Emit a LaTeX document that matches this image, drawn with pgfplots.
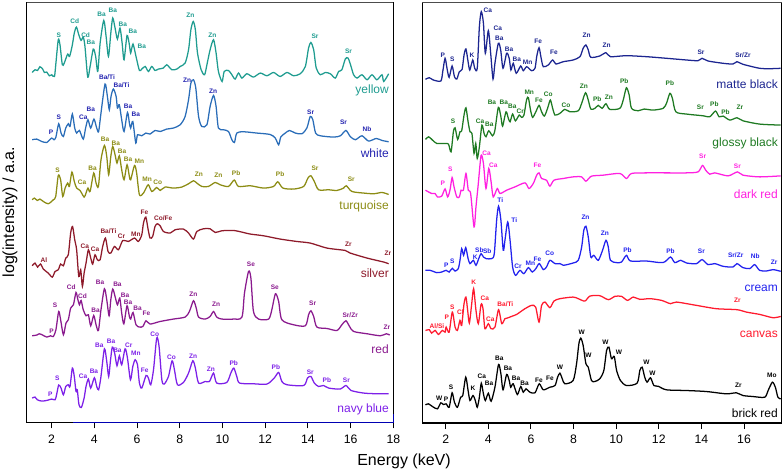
\documentclass[border=0pt]{standalone}
\usepackage{fontspec}
\setmainfont{Liberation Sans}
\usepackage{pgfplots}
\pgfplotsset{compat=1.18}

\definecolor{cyellow}{HTML}{1F9C90}
\definecolor{cwhite}{HTML}{2A6DB8}
\definecolor{cwhitet}{HTML}{2323B0}
\definecolor{cturq}{HTML}{8C8C14}
\definecolor{csilver}{HTML}{8E1A2A}
\definecolor{cred}{HTML}{8A1A8E}
\definecolor{cnavy}{HTML}{7D20E8}
\definecolor{cmatte}{HTML}{1C2590}
\definecolor{cgloss}{HTML}{1E7A22}
\definecolor{cdark}{HTML}{FF20E0}
\definecolor{ccream}{HTML}{2222EE}
\definecolor{ccanvas}{HTML}{FF1A2E}

% peak label and series name
\newcommand{\pk}[4]{\node[text=#1,font=\fontsize{4.9}{6}\selectfont\bfseries,inner sep=0pt] at (axis cs:#2,#3) {#4};}
\newcommand{\nm}[4]{\node[text=#1,font=\fontsize{9}{11}\selectfont,anchor=east,inner sep=0pt] at (axis cs:#2,#3) {#4};}

\pgfplotsset{
  spec/.style={
    scale only axis,
    ymin=0, ymax=420,
    ytick=\empty,
    xtick={2,4,...,18},
    axis line style={line width=0.9pt},
    tick style={line width=0.7pt,black},
    major tick length=4.5pt,
    xtick pos=bottom,
    tick align=outside,
    clip mode=individual,
    tick label style={font=\fontsize{9.2}{11}\selectfont},
    xticklabel style={yshift=-1.2pt},
    /pgf/number format/assume math mode=true,
  },
  ln/.style={no markers,smooth,tension=0.45,line width=0.95pt,#1},
}

\begin{document}
\begin{tikzpicture}[x=1pt,y=1pt]
\path[use as bounding box] (0,0) rectangle (588,354);

\begin{axis}[spec,anchor=south west,at={(20pt,37.3pt)},width=275pt,height=315pt,xmin=0.83,xmax=18]
% frame: grey top edge, blue stretch along the bottom as in the scan
\draw[gray!60!black,line width=0.9pt] (rel axis cs:0,1) -- (rel axis cs:1,1);
\draw[blue!70!black,line width=0.8pt] (axis cs:3,0) -- (axis cs:18,0) -- (axis cs:18,8);
% yellow
\addplot[ln=cyellow] coordinates {
(1.09,349.8)(1.22,352.5)(1.34,351.8)(1.45,355.5)(1.58,353.2)(1.66,349.8)(1.77,350.2)(1.89,346.5)(2.0,347.5)(2.13,345.8)(2.2,359.2)(2.31,382.5)(2.39,377.5)(2.5,357.5)(2.59,359.2)(2.75,368.2)(2.84,365.8)(2.97,377.5)(3.06,389.2)(3.16,395.2)(3.27,387.5)(3.38,381.8)(3.48,385.2)(3.56,375.8)(3.69,345.2)(3.8,355.8)(3.95,373.2)(4.06,365.8)(4.16,350.8)(4.27,379.2)(4.44,401.8)(4.55,385.8)(4.66,365.8)(4.77,389.2)(4.86,404.2)(4.97,394.2)(5.08,383.2)(5.2,394.2)(5.3,379.2)(5.39,362.5)(5.53,386.8)(5.64,377.5)(5.7,369.2)(5.81,378.2)(5.95,365.8)(6.11,351.8)(6.22,353.2)(6.38,355.8)(6.53,350.8)(6.69,355.8)(6.84,351.8)(7.0,353.2)(7.23,354.2)(7.39,357.5)(7.63,352.5)(7.86,353.2)(8.02,355.8)(8.25,359.2)(8.41,372.5)(8.52,392.5)(8.63,400.8)(8.73,392.5)(8.83,369.2)(9.0,352.5)(9.16,347.5)(9.27,357.5)(9.42,372.5)(9.58,382.5)(9.7,369.2)(9.81,350.8)(9.98,340.8)(10.08,350.8)(10.28,351.8)(10.44,347.5)(10.59,343.2)(10.75,349.2)(10.91,344.2)(11.14,348.5)(11.45,345.2)(11.77,349.2)(12.08,346.5)(12.39,349.8)(12.7,345.8)(13.02,349.8)(13.33,346.5)(13.64,348.5)(13.88,355.8)(14.03,374.2)(14.14,379.8)(14.27,372.5)(14.39,354.2)(14.58,347.5)(14.81,349.8)(15.05,348.5)(15.28,344.2)(15.44,350.8)(15.59,352.5)(15.75,363.2)(15.88,364.2)(16.02,355.8)(16.14,347.5)(16.3,344.2)(16.53,347.5)(16.77,342.5)(17.0,347.5)(17.23,342.5)(17.47,347.5)(17.55,340.8)(17.78,348.5)
};
% white
\addplot[ln=cwhite] coordinates {
(1.09,282.5)(1.3,283.2)(1.53,280.8)(1.77,279.8)(2.0,284.2)(2.11,282.5)(2.2,285.2)(2.33,298.5)(2.44,289.2)(2.55,285.8)(2.66,294.2)(2.78,298.5)(2.86,295.8)(2.97,308.2)(3.08,294.2)(3.17,289.2)(3.3,291.8)(3.48,283.2)(3.59,294.2)(3.7,302.5)(3.83,294.2)(3.98,303.2)(4.11,294.2)(4.2,290.8)(4.31,309.2)(4.5,338.2)(4.61,325.8)(4.7,312.5)(4.78,325.8)(4.89,333.2)(5.02,325.8)(5.08,314.2)(5.17,317.5)(5.28,302.5)(5.39,290.8)(5.55,309.8)(5.64,299.2)(5.7,294.2)(5.8,300.8)(5.94,279.2)(6.02,287.5)(6.22,286.5)(6.41,289.2)(6.61,288.2)(6.84,291.8)(7.08,290.8)(7.39,293.2)(7.7,294.2)(8.02,297.5)(8.25,305.8)(8.41,322.5)(8.52,339.2)(8.64,342.5)(8.75,334.2)(8.88,305.8)(9.03,295.8)(9.27,297.5)(9.42,315.8)(9.58,326.8)(9.7,315.8)(9.81,294.2)(10.05,292.5)(10.28,290.8)(10.44,282.5)(10.56,279.8)(10.67,289.2)(10.98,290.5)(11.61,289.2)(12.23,287.8)(12.47,284.2)(12.63,277.5)(12.73,285.2)(12.94,289.2)(13.14,291.8)(13.41,289.2)(13.72,288.5)(13.95,294.2)(14.11,305.8)(14.23,302.5)(14.36,289.2)(14.58,286.5)(15.2,285.2)(15.52,286.5)(15.78,291.8)(15.98,285.8)(16.22,282.5)(16.53,286.5)(16.84,281.2)(17.2,283.8)(17.47,281.8)(17.78,280.5)
};
% turquoise
\addplot[ln=cturq] coordinates {
(1.09,222.5)(1.19,224.2)(1.33,221.8)(1.45,223.2)(1.61,220.8)(1.84,218.5)(2.08,222.5)(2.19,225.8)(2.31,246.8)(2.42,242.5)(2.52,225.8)(2.63,234.2)(2.75,239.2)(2.83,235.8)(2.95,250.2)(3.06,240.8)(3.17,234.2)(3.33,231.8)(3.52,225.2)(3.61,229.2)(3.7,234.2)(3.8,230.8)(3.97,249.2)(4.08,239.2)(4.19,235.8)(4.31,262.5)(4.47,276.8)(4.58,265.8)(4.67,247.5)(4.77,265.8)(4.86,275.8)(4.97,267.5)(5.06,259.2)(5.17,266.5)(5.28,252.5)(5.39,242.5)(5.53,257.5)(5.64,245.8)(5.7,242.5)(5.88,256.8)(5.98,249.2)(6.11,227.5)(6.3,229.2)(6.52,237.5)(6.69,230.8)(6.92,234.8)(7.08,231.8)(7.31,235.2)(7.7,234.2)(8.09,235.2)(8.41,238.5)(8.64,241.5)(8.8,239.2)(9.03,235.8)(9.34,235.8)(9.66,239.8)(9.89,237.5)(10.28,235.8)(10.55,242.2)(10.75,235.8)(11.3,236.5)(11.92,234.2)(12.39,235.8)(12.59,240.5)(12.83,234.2)(13.33,233.2)(13.8,235.8)(14.0,244.2)(14.14,246.5)(14.3,240.8)(14.5,232.5)(14.97,232.5)(15.36,231.8)(15.67,234.2)(15.8,236.5)(16.06,230.8)(16.61,229.2)(17.08,228.5)(17.47,229.8)(17.78,227.8)
};
% silver
\addplot[ln=csilver] coordinates {
(1.09,156.5)(1.22,159.2)(1.34,155.2)(1.48,158.2)(1.61,153.2)(1.84,149.2)(2.03,145.2)(2.16,150.8)(2.31,152.5)(2.42,158.2)(2.55,156.5)(2.66,164.2)(2.78,167.5)(2.89,189.2)(2.98,195.8)(3.08,182.5)(3.17,172.5)(3.27,145.8)(3.36,152.5)(3.44,135.8)(3.52,149.2)(3.61,159.2)(3.72,172.5)(3.83,164.2)(3.92,158.2)(4.03,167.5)(4.14,162.5)(4.27,162.5)(4.39,175.8)(4.52,184.2)(4.64,170.8)(4.77,169.2)(4.94,175.8)(5.13,172.5)(5.33,181.8)(5.59,180.8)(5.88,184.2)(6.06,180.8)(6.22,187.5)(6.3,199.2)(6.41,205.2)(6.52,192.5)(6.61,184.2)(6.73,185.8)(6.84,195.8)(6.95,198.5)(7.08,196.5)(7.23,190.8)(7.55,189.2)(7.78,192.5)(8.17,193.2)(8.41,189.2)(8.64,183.2)(8.8,190.8)(9.11,193.5)(9.42,193.5)(9.66,189.8)(9.97,191.5)(10.52,191.8)(10.98,189.8)(11.3,188.2)(11.92,186.5)(12.7,183.2)(13.48,180.8)(14.11,179.2)(14.89,174.2)(15.75,171.8)(15.98,169.2)(16.77,164.2)(17.55,160.2)(17.78,158.5)
};
% red
\addplot[ln=cred] coordinates {
(1.09,86.5)(1.3,87.2)(1.42,88.5)(1.58,87.2)(1.77,85.2)(1.95,86.5)(2.08,85.8)(2.2,92.5)(2.33,110.8)(2.42,102.5)(2.55,87.5)(2.67,99.2)(2.78,102.5)(2.89,114.2)(3.02,117.5)(3.14,129.8)(3.23,122.5)(3.3,117.5)(3.38,121.8)(3.48,112.5)(3.61,106.5)(3.72,107.5)(3.83,96.5)(3.97,106.8)(4.08,97.5)(4.19,91.8)(4.31,112.5)(4.47,133.5)(4.58,122.5)(4.69,106.5)(4.77,122.5)(4.86,133.2)(4.97,125.8)(5.08,117.5)(5.19,124.2)(5.28,109.2)(5.38,98.5)(5.53,116.5)(5.64,105.8)(5.7,103.2)(5.81,109.8)(5.95,97.5)(6.11,95.2)(6.27,95.8)(6.42,101.5)(6.61,98.2)(7.08,100.8)(7.7,103.2)(8.25,105.2)(8.45,110.8)(8.64,121.5)(8.77,114.2)(8.88,105.2)(9.19,103.2)(9.42,105.8)(9.58,110.8)(9.73,105.2)(9.97,103.2)(10.52,103.2)(10.91,105.2)(11.03,129.2)(11.22,150.8)(11.33,144.2)(11.45,110.8)(11.69,103.2)(12.16,103.2)(12.31,112.5)(12.48,128.5)(12.63,120.8)(12.78,102.5)(13.33,97.5)(13.88,96.5)(14.03,107.5)(14.14,111.5)(14.27,105.8)(14.42,95.2)(14.89,93.8)(15.36,91.8)(15.59,97.5)(15.78,101.5)(15.95,95.8)(16.14,90.8)(16.77,88.5)(17.39,86.5)(17.67,88.5)(17.83,87.2)
};
% navy blue
\addplot[ln=cnavy] coordinates {
(1.09,24.2)(1.22,25.2)(1.33,22.5)(1.53,21.2)(1.77,21.8)(2.0,23.2)(2.16,22.5)(2.23,27.5)(2.33,37.2)(2.44,34.2)(2.55,27.5)(2.66,35.8)(2.78,37.5)(2.86,35.8)(2.97,54.2)(3.06,45.8)(3.14,30.8)(3.2,32.5)(3.28,17.5)(3.39,14.8)(3.52,24.2)(3.61,35.8)(3.72,43.2)(3.83,34.2)(4.0,44.5)(4.11,35.8)(4.2,32.5)(4.31,45.8)(4.47,73.5)(4.58,60.8)(4.67,45.8)(4.75,60.8)(4.84,75.2)(4.95,69.2)(5.06,56.5)(5.17,66.5)(5.28,57.5)(5.44,73.5)(5.55,64.2)(5.69,42.5)(5.8,55.8)(5.91,62.5)(6.02,57.5)(6.11,39.2)(6.22,34.2)(6.42,46.8)(6.53,44.2)(6.64,37.5)(6.77,52.5)(6.92,84.2)(7.03,75.8)(7.16,42.5)(7.27,38.2)(7.47,45.8)(7.64,61.5)(7.75,52.5)(7.89,37.5)(8.17,39.8)(8.41,49.2)(8.61,61.5)(8.73,54.2)(8.88,39.2)(9.19,40.8)(9.39,40.8)(9.58,49.2)(9.73,39.2)(10.2,39.8)(10.39,49.2)(10.53,54.2)(10.67,45.8)(10.8,39.2)(11.45,38.5)(12.08,38.2)(12.42,44.2)(12.63,49.8)(12.78,40.8)(13.02,37.5)(13.8,36.8)(13.98,44.2)(14.14,45.8)(14.3,39.2)(14.5,35.8)(14.73,36.8)(14.97,34.2)(15.52,33.2)(15.78,36.8)(16.02,31.8)(16.61,29.2)(17.23,28.5)(17.78,28.5)
};
% labels
\pk{cyellow}{2.33}{387.5}{S}\pk{cyellow}{3.08}{400.8}{Cd}\pk{cyellow}{3.59}{387.5}{Cd}\pk{cyellow}{3.83}{379.8}{Ba}\pk{cyellow}{4.34}{408.2}{Ba}\pk{cyellow}{4.86}{411.5}{Ba}\pk{cyellow}{5.33}{397.5}{Ba}\pk{cyellow}{5.8}{390.8}{Ba}\pk{cyellow}{6.22}{375.8}{Ba}\pk{cyellow}{8.5}{407.5}{Zn}\pk{cyellow}{9.53}{387.5}{Zn}\pk{cyellow}{14.33}{385.8}{Sr}\pk{cyellow}{15.9}{370.8}{Sr}
\nm{cyellow}{17.8}{331.8}{yellow}
\pk{cwhitet}{1.97}{290.2}{P}\pk{cwhitet}{2.34}{304.8}{S}\pk{cwhitet}{3.48}{305.2}{Ca}\pk{cwhitet}{3.83}{312.5}{Ba}\pk{cwhitet}{4.59}{345.2}{Ba/Ti}\pk{cwhitet}{5.27}{336.8}{Ba/Ti}\pk{cwhitet}{5.58}{315.8}{Ba}\pk{cwhitet}{5.94}{307.5}{Ba}\pk{cwhitet}{8.34}{342.5}{Zn}\pk{cwhitet}{9.56}{331.5}{Zn}\pk{cwhitet}{14.13}{310.2}{Sr}\pk{cwhitet}{15.67}{300.5}{Sr}\pk{cwhitet}{16.77}{293.5}{Nb}
\nm{cwhitet}{17.8}{269.2}{white}
\pk{cturq}{2.28}{251.8}{S}\pk{cturq}{3.42}{240.2}{Ca}\pk{cturq}{3.92}{253.5}{Ba}\pk{cturq}{4.5}{283.2}{Ba}\pk{cturq}{5.0}{278.5}{Ba}\pk{cturq}{5.3}{270.8}{Ba}\pk{cturq}{5.58}{262.5}{Ba}\pk{cturq}{6.11}{261.5}{Mn}\pk{cturq}{6.47}{243.2}{Mn}\pk{cturq}{6.97}{240.5}{Co}\pk{cturq}{8.89}{248.5}{Zn}\pk{cturq}{9.81}{247.2}{Zn}\pk{cturq}{10.64}{248.8}{Pb}\pk{cturq}{12.7}{247.8}{Pb}\pk{cturq}{14.33}{253.8}{Sr}\pk{cturq}{16.03}{243.2}{Sr}
\nm{cturq}{17.8}{215.8}{turquoise}
\pk{csilver}{6.34}{210.2}{Fe}\pk{csilver}{7.22}{203.8}{Co/Fe}\pk{csilver}{1.64}{162.2}{Al}\pk{csilver}{3.55}{175.8}{Ca}\pk{csilver}{4.03}{173.2}{Ca}\pk{csilver}{4.66}{190.8}{Ba/Ti}\pk{csilver}{5.27}{185.8}{Cr}\pk{csilver}{5.94}{188.5}{Mn}\pk{csilver}{15.89}{178.5}{Zr}\pk{csilver}{17.75}{168.8}{Zr}
\nm{csilver}{17.8}{149.2}{silver}
\pk{cred}{2.0}{91.2}{P}\pk{cred}{2.16}{116.8}{S}\pk{cred}{2.92}{135.2}{Cd}\pk{cred}{3.44}{125.8}{Cd}\pk{cred}{4.06}{112.2}{Ba}\pk{cred}{4.27}{140.2}{Ba}\pk{cred}{5.08}{138.2}{Ba}\pk{cred}{5.44}{126.8}{Ba}\pk{cred}{5.58}{119.8}{Ba}\pk{cred}{6.02}{113.8}{Ba}\pk{cred}{6.44}{108.5}{Fe}\pk{cred}{8.64}{127.8}{Zn}\pk{cred}{9.7}{117.8}{Zn}\pk{cred}{11.33}{157.8}{Se}\pk{cred}{12.45}{134.8}{Se}\pk{cred}{14.22}{118.8}{Sr}\pk{cred}{15.98}{107.2}{Sr/Zr}\pk{cred}{17.7}{95.5}{Zr}
\nm{cred}{17.8}{73.2}{red}
\pk{cnavy}{1.94}{28.2}{P}\pk{cnavy}{2.27}{44.5}{S}\pk{cnavy}{3.47}{46.2}{Ca}\pk{cnavy}{3.98}{50.8}{Ba}\pk{cnavy}{4.23}{76.8}{Ba}\pk{cnavy}{4.78}{80.5}{Ba}\pk{cnavy}{5.08}{71.5}{Ba}\pk{cnavy}{5.61}{77.5}{Cr}\pk{cnavy}{5.94}{68.8}{Mn}\pk{cnavy}{6.36}{51.8}{Fe}\pk{cnavy}{6.83}{88.5}{Co}\pk{cnavy}{7.61}{65.5}{Co}\pk{cnavy}{8.63}{66.2}{Zn}\pk{cnavy}{9.45}{52.8}{Zn}\pk{cnavy}{10.53}{58.8}{Pb}\pk{cnavy}{12.5}{54.8}{Pb}\pk{cnavy}{14.11}{50.5}{Sr}\pk{cnavy}{14.89}{41.8}{Pb}\pk{cnavy}{15.8}{42.5}{Sr}
\nm{cnavy}{17.8}{13.2}{navy blue}
\end{axis}

\begin{axis}[spec,anchor=south west,at={(316.7pt,36.7pt)},width=269.6pt,height=315.5pt,xmin=0.9,xmax=17.77]
\draw[gray!60!black,line width=0.9pt] (rel axis cs:0,1) -- (rel axis cs:1,1);
% matte black
\addplot[ln=cmatte] coordinates {
(1.05,343.2)(1.23,344.8)(1.42,342.5)(1.77,341.5)(1.86,350.8)(1.97,364.2)(2.06,354.2)(2.16,345.2)(2.3,356.5)(2.41,345.8)(2.52,343.5)(2.64,350.8)(2.77,353.2)(2.86,367.5)(2.95,373.5)(3.05,360.8)(3.13,352.5)(3.27,362.5)(3.36,354.2)(3.48,354.2)(3.58,395.8)(3.67,410.8)(3.77,399.2)(3.86,369.2)(4.0,391.8)(4.11,369.2)(4.22,343.5)(4.31,359.2)(4.47,379.2)(4.58,372.5)(4.69,354.2)(4.86,369.2)(4.98,364.2)(5.06,352.5)(5.17,359.2)(5.31,349.2)(5.52,356.5)(5.64,351.8)(5.8,355.8)(6.03,351.8)(6.19,354.2)(6.27,365.8)(6.38,374.8)(6.48,364.2)(6.58,355.8)(6.81,357.5)(7.02,362.5)(7.17,358.5)(7.52,360.8)(7.98,362.5)(8.3,365.8)(8.45,374.2)(8.58,377.5)(8.69,372.5)(8.81,365.2)(9.23,366.5)(9.52,369.8)(9.73,365.8)(10.48,366.8)(11.42,365.8)(12.36,364.2)(13.3,362.5)(13.84,361.8)(14.03,364.2)(14.31,361.5)(15.02,359.2)(15.48,358.5)(15.67,360.8)(15.95,358.2)(16.73,354.2)(17.2,353.8)(17.72,354.2)
};
% glossy black
\addplot[ln=cgloss] coordinates {
(1.05,283.2)(1.2,285.8)(1.38,282.5)(1.58,279.2)(1.97,279.2)(2.13,278.5)(2.25,270.8)(2.36,290.8)(2.44,294.8)(2.56,283.2)(2.67,290.8)(2.75,291.8)(2.86,307.5)(2.95,314.8)(3.05,300.8)(3.14,290.8)(3.23,289.2)(3.33,269.2)(3.41,279.2)(3.48,264.2)(3.58,275.8)(3.7,297.5)(3.8,289.2)(3.89,285.8)(4.02,291.8)(4.2,286.8)(4.31,292.5)(4.47,315.2)(4.59,305.8)(4.67,296.5)(4.83,310.8)(4.94,304.2)(5.02,300.8)(5.14,308.5)(5.27,301.8)(5.45,307.5)(5.56,305.2)(5.67,307.5)(5.8,323.2)(5.88,324.8)(5.98,312.5)(6.08,305.2)(6.23,310.8)(6.38,317.2)(6.5,310.8)(6.63,306.5)(6.78,314.2)(6.91,322.5)(7.02,314.2)(7.13,307.5)(7.36,309.2)(7.59,313.2)(7.83,310.8)(8.22,311.8)(8.38,319.2)(8.56,329.8)(8.69,322.5)(8.81,313.5)(9.0,314.2)(9.16,317.2)(9.34,314.2)(9.52,318.8)(9.7,313.2)(10.17,314.2)(10.33,322.5)(10.48,334.8)(10.61,327.5)(10.72,314.2)(11.03,311.8)(11.31,313.5)(11.73,312.5)(12.2,314.2)(12.36,319.2)(12.52,329.2)(12.64,324.2)(12.8,310.8)(13.3,308.5)(14.08,306.8)(14.39,305.8)(14.66,311.5)(14.83,305.8)(15.02,306.5)(15.33,302.5)(15.67,304.8)(15.95,301.8)(16.73,298.5)(17.72,297.5)
};
% dark red
\addplot[ln=cdark] coordinates {
(1.05,232.5)(1.19,230.8)(1.34,229.2)(1.5,229.2)(1.61,225.8)(1.81,226.5)(1.97,233.8)(2.09,225.8)(2.2,232.5)(2.3,245.2)(2.39,235.8)(2.52,225.8)(2.64,225.8)(2.72,232.5)(2.83,232.5)(2.95,249.2)(3.06,232.5)(3.17,229.2)(3.33,195.8)(3.42,215.8)(3.53,239.2)(3.66,267.2)(3.77,259.2)(3.89,234.2)(4.02,254.2)(4.13,240.8)(4.23,225.8)(4.42,234.2)(4.55,229.2)(4.86,232.5)(5.25,235.8)(5.72,239.8)(5.91,234.2)(6.11,239.2)(6.27,247.5)(6.38,249.8)(6.5,244.2)(6.73,242.5)(6.89,236.5)(7.08,242.5)(7.52,244.2)(7.98,245.8)(8.38,245.8)(8.58,241.5)(8.84,246.5)(9.39,247.5)(10.17,249.2)(10.48,244.2)(10.72,249.2)(11.42,249.8)(12.36,249.8)(13.3,249.8)(13.84,250.8)(14.05,257.2)(14.2,252.5)(14.39,248.5)(14.63,249.8)(15.25,246.8)(15.69,250.8)(15.95,247.5)(16.73,245.8)(17.72,246.8)
};
% cream
\addplot[ln=ccream] coordinates {
(1.05,152.5)(1.27,152.5)(1.58,150.2)(1.81,150.8)(2.02,152.5)(2.16,150.8)(2.31,154.5)(2.44,151.8)(2.59,154.2)(2.67,162.5)(2.75,174.2)(2.84,167.5)(2.94,175.2)(3.05,164.2)(3.14,159.2)(3.3,162.5)(3.42,157.5)(3.55,164.2)(3.66,169.2)(3.77,165.8)(3.89,164.2)(4.16,164.2)(4.28,169.2)(4.39,202.5)(4.48,216.5)(4.59,202.5)(4.7,172.5)(4.78,182.5)(4.91,200.8)(5.02,182.5)(5.14,155.8)(5.28,147.5)(5.48,152.5)(5.67,149.2)(5.88,155.2)(6.06,150.8)(6.23,154.2)(6.39,159.2)(6.58,153.2)(6.73,155.8)(6.89,162.5)(7.13,159.2)(7.36,159.2)(7.52,157.5)(7.98,159.8)(8.22,162.5)(8.38,175.8)(8.48,192.5)(8.58,196.5)(8.69,185.8)(8.81,165.8)(8.95,167.5)(9.16,162.5)(9.36,172.5)(9.52,182.5)(9.63,175.8)(9.73,162.5)(10.02,160.2)(10.25,160.8)(10.48,167.5)(10.67,161.8)(11.42,161.8)(12.2,160.2)(12.55,165.8)(12.75,160.2)(13.03,162.5)(13.3,159.8)(13.77,159.2)(14.03,163.2)(14.31,158.2)(14.63,159.2)(15.02,156.5)(15.48,155.8)(15.67,159.2)(15.95,155.2)(16.27,154.2)(16.5,158.2)(16.73,152.5)(17.05,151.8)(17.36,153.2)(17.72,151.5)
};
% canvas
\addplot[ln=ccanvas] coordinates {
(1.05,92.5)(1.23,93.2)(1.34,89.8)(1.5,92.5)(1.66,88.5)(1.84,92.5)(1.97,90.8)(2.02,95.8)(2.16,90.8)(2.31,110.8)(2.44,95.8)(2.55,92.5)(2.67,102.5)(2.75,97.5)(2.86,119.2)(2.95,125.8)(3.03,112.5)(3.11,99.8)(3.22,119.2)(3.31,134.2)(3.42,112.5)(3.53,99.2)(3.66,118.5)(3.75,114.2)(3.84,94.2)(4.0,99.2)(4.13,94.2)(4.31,95.8)(4.48,113.2)(4.63,99.2)(4.78,104.2)(4.94,105.2)(5.09,106.5)(5.33,108.5)(5.72,114.2)(6.03,117.5)(6.22,115.8)(6.38,100.8)(6.5,117.5)(6.66,120.8)(6.89,115.2)(7.08,121.8)(7.36,124.2)(7.98,125.8)(8.22,124.2)(8.53,121.8)(8.77,126.8)(9.23,127.2)(9.63,123.2)(9.94,126.5)(10.25,126.5)(10.53,122.5)(10.8,125.8)(11.11,123.5)(11.58,124.2)(12.13,122.5)(12.55,119.2)(12.83,120.8)(13.77,117.5)(14.7,114.2)(15.67,113.2)(16.11,110.8)(16.73,108.5)(17.36,105.2)(17.72,106.5)
};
% brick red
\addplot[ln=black] coordinates {
(1.05,18.2)(1.19,19.2)(1.38,16.5)(1.61,14.2)(1.77,20.2)(1.89,18.5)(2.02,19.2)(2.16,15.8)(2.3,30.2)(2.41,20.8)(2.55,15.8)(2.7,25.8)(2.8,27.5)(2.94,45.8)(3.05,32.5)(3.14,22.5)(3.28,27.5)(3.39,22.5)(3.48,15.8)(3.58,25.8)(3.67,39.8)(3.77,29.2)(3.86,22.5)(4.0,29.8)(4.13,21.8)(4.31,35.8)(4.48,58.5)(4.59,49.2)(4.69,33.2)(4.86,48.5)(4.98,42.5)(5.05,35.8)(5.17,39.2)(5.36,28.5)(5.52,36.5)(5.64,30.8)(5.77,34.2)(5.95,30.8)(6.19,30.2)(6.39,39.2)(6.58,33.2)(6.89,35.8)(7.13,37.5)(7.25,45.8)(7.36,49.8)(7.47,44.2)(7.59,39.2)(7.98,42.5)(8.14,59.2)(8.25,79.2)(8.34,84.8)(8.45,77.5)(8.58,59.2)(8.69,55.8)(8.84,42.5)(9.0,41.5)(9.23,44.2)(9.42,52.5)(9.55,72.5)(9.66,75.8)(9.78,64.2)(9.91,66.5)(10.02,52.5)(10.2,42.5)(10.48,37.5)(10.98,39.8)(11.11,52.5)(11.22,55.8)(11.34,45.8)(11.45,40.8)(11.61,45.2)(11.77,37.5)(11.97,36.8)(12.36,33.2)(13.3,32.5)(14.23,31.5)(15.17,29.2)(15.64,30.2)(15.95,27.5)(16.42,26.5)(16.97,25.8)(17.13,32.5)(17.33,40.8)(17.47,35.8)(17.59,25.8)(17.72,24.2)
};
% labels
\pk{cmatte}{1.86}{367.5}{P}\pk{cmatte}{2.31}{363.2}{S}\pk{cmatte}{3.23}{367.2}{K}\pk{cmatte}{3.98}{411.8}{Ca}\pk{cmatte}{4.45}{394.2}{Ca}\pk{cmatte}{4.52}{384.2}{Ba}\pk{cmatte}{4.97}{372.8}{Ba}\pk{cmatte}{5.34}{363.2}{Ba}\pk{cmatte}{5.84}{359.8}{Mn}\pk{cmatte}{6.34}{381.5}{Fe}\pk{cmatte}{7.08}{369.8}{Fe}\pk{cmatte}{8.61}{386.8}{Zn}\pk{cmatte}{9.55}{377.2}{Zn}\pk{cmatte}{13.98}{369.8}{Sr}\pk{cmatte}{15.95}{367.2}{Sr/Zr}
\nm{cmatte}{17.6}{338.5}{matte black}
\pk{cgloss}{2.34}{301.2}{S}\pk{cgloss}{3.61}{301.5}{Ca}\pk{cgloss}{4.05}{298.2}{Ba}\pk{cgloss}{4.17}{320.5}{Ba}\pk{cgloss}{4.73}{320.2}{Ba}\pk{cgloss}{5.13}{315.8}{Ba}\pk{cgloss}{5.5}{311.8}{Cr}\pk{cgloss}{5.92}{329.8}{Mn}\pk{cgloss}{6.38}{321.8}{Fe}\pk{cgloss}{6.81}{328.5}{Co}\pk{cgloss}{7.64}{317.2}{Co}\pk{cgloss}{8.48}{336.5}{Zn}\pk{cgloss}{9.11}{323.2}{Pb}\pk{cgloss}{9.66}{325.2}{Zn}\pk{cgloss}{10.38}{341.8}{Pb}\pk{cgloss}{12.52}{339.5}{Pb}\pk{cgloss}{13.95}{315.2}{Sr}\pk{cgloss}{14.61}{318.5}{Pb}\pk{cgloss}{15.13}{310.8}{Pb}\pk{cgloss}{15.81}{315.2}{Zr}
\nm{cgloss}{17.6}{279.2}{glossy black}
\pk{cdark}{1.86}{239.2}{P}\pk{cdark}{2.22}{253.5}{S}\pk{cdark}{3.92}{269.8}{Ca}\pk{cdark}{4.23}{257.8}{Ca}\pk{cdark}{6.31}{257.2}{Fe}\pk{cdark}{14.06}{266.2}{Sr}\pk{cdark}{15.69}{256.5}{Sr}
\nm{cdark}{17.6}{228.5}{dark red}
\pk{ccream}{4.56}{222.2}{Ti}\pk{ccream}{5.22}{202.2}{Ti}\pk{ccream}{8.56}{205.8}{Zn}\pk{ccream}{9.47}{189.8}{Zn}\pk{ccream}{2.03}{157.2}{P}\pk{ccream}{2.31}{161.8}{S}\pk{ccream}{3.38}{165.8}{K}\pk{ccream}{3.58}{172.5}{Sb}\pk{ccream}{3.95}{171.2}{Sb}\pk{ccream}{5.39}{156.5}{Cr}\pk{ccream}{5.97}{159.8}{Mn}\pk{ccream}{6.31}{163.8}{Fe}\pk{ccream}{6.88}{169.8}{Co}\pk{ccream}{10.53}{172.5}{Pb}\pk{ccream}{12.55}{171.8}{Pb}\pk{ccream}{14.0}{171.8}{Sr}\pk{ccream}{15.61}{167.2}{Sr/Zr}\pk{ccream}{16.53}{166.5}{Nb}\pk{ccream}{17.41}{160.2}{Zr}
\nm{ccream}{17.6}{134.5}{cream}
\pk{ccanvas}{1.59}{97.2}{Al/Si}\pk{ccanvas}{2.05}{105.2}{P}\pk{ccanvas}{2.31}{115.2}{S}\pk{ccanvas}{2.69}{110.5}{Cl}\pk{ccanvas}{3.31}{140.8}{K}\pk{ccanvas}{3.84}{124.8}{Ca}\pk{ccanvas}{4.09}{103.5}{Ca}\pk{ccanvas}{4.8}{118.8}{Ba/Ti}\pk{ccanvas}{15.69}{122.2}{Zr}
\nm{ccanvas}{17.6}{88.5}{canvas}
\pk{black}{1.69}{24.5}{W}\pk{black}{2.02}{23.8}{P}\pk{black}{2.25}{35.5}{S}\pk{black}{3.28}{35.2}{K}\pk{black}{3.69}{46.5}{Ca}\pk{black}{4.03}{39.8}{Ba}\pk{black}{4.52}{64.8}{Ba}\pk{black}{4.92}{54.8}{Ba}\pk{black}{5.3}{45.2}{Ba}\pk{black}{5.7}{40.2}{Ba}\pk{black}{6.38}{42.8}{Fe}\pk{black}{6.89}{44.5}{Fe}\pk{black}{7.36}{55.5}{W}\pk{black}{8.38}{90.2}{W}\pk{black}{8.7}{67.8}{W}\pk{black}{9.5}{80.8}{W}\pk{black}{10.13}{70.5}{W}\pk{black}{11.42}{61.2}{W}\pk{black}{11.7}{50.2}{W}\pk{black}{15.73}{37.8}{Zr}\pk{black}{17.31}{47.8}{Mo}
\nm{black}{17.6}{9.5}{brick red}
\end{axis}

\node[font=\fontsize{12}{14}\selectfont,rotate=90,anchor=center] at (7.5pt,195pt) {log(intensity) / a.a.};
\node[font=\fontsize{12}{14}\selectfont,anchor=center] at (303pt,8.2pt) {Energy (keV)};
\end{tikzpicture}
\end{document}
